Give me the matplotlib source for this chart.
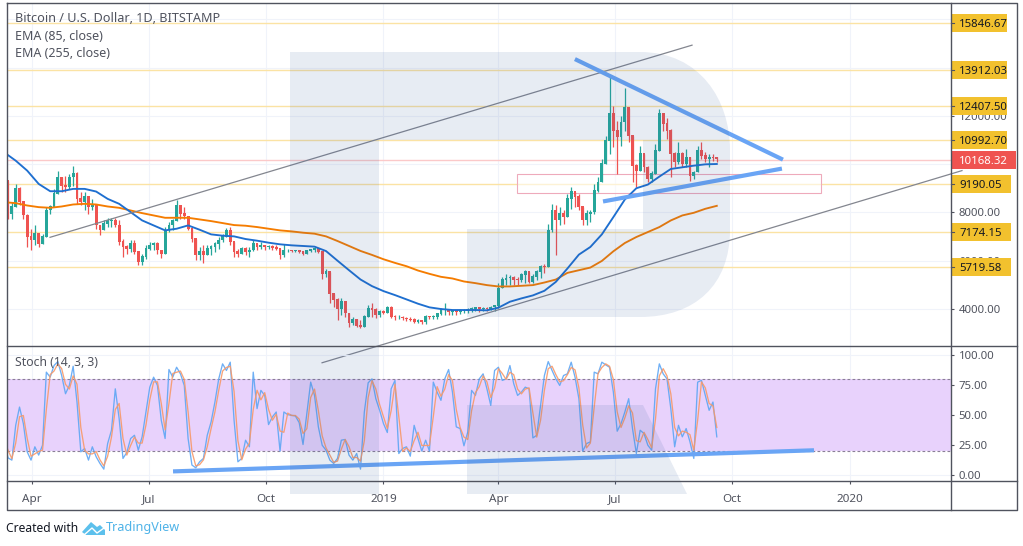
import matplotlib
matplotlib.use('Agg')
import matplotlib.pyplot as plt
import matplotlib.dates as mdates
from matplotlib.patches import Rectangle, PathPatch, Polygon
from matplotlib.path import Path
from matplotlib.transforms import blended_transform_factory
import numpy as np
import pandas as pd

plt.rcParams['font.family'] = ['Noto Sans', 'DejaVu Sans']

first_day = '2018-03-10'
highs = [9456,8700,8430,9180,9040,8425,7940,7325,7460,7120,7120,8220,8290,8975,9730,9455,9525,9590,9940,9660,
         8840,8840,8490,8560,7740,7460,7670,7780,7780,7780,7670,6910,6640,6840,6840,6295,6295,6640,6775,6775,
         6775,6430,7395,7600,7740,8520,8290,8245,7740,7255,6705,6570,6640,6640,6640,6775,6980,7120,7365,7395,
         6705,6500,6570,6570,6570,6840,6705,6775,6640,6637,6637,6637,6500,6705,6500,6460,6460,6460,6400,6460,
         6500,6540,6460,6320,5675,5540,4640,4440,4440,4300,3614,3655,3570,3545,3750,4160,4230,4025,3960,3960,
         4120,4120,3750,3750,3720,3680,3655,3615,3570,3505,3750,3710,3750,3850,4025,4230,3985,3958,3958,3985,
         3985,4025,4068,4068,4055,4068,4068,4120,4165,5060,5330,5470,5400,5360,5305,5500,5635,5470,5470,5610,
         5814,5880,7530,8356,8288,8218,8081,8769,9071,8837,8769,8081,8109,8081,9181,9484,10212,11175,13650,12412,
         11794,12000,13169,12344,11037,10006,10762,10281,9937,9731,10831,12275,12069,11931,11450,10487,10900,10487,10625,10144,
         9731,10762,10900,10487,10419,10419,10281]
lows = [8837,7740,7740,8220,8290,7740,6570,6460,6640,6570,6705,6980,7940,8220,8770,8840,8840,8975,9110,8355,
        8290,8080,7940,8080,7325,7050,7255,7395,7395,7395,6640,6160,6295,6360,6295,5810,5810,6090,6430,6430,
        6290,6130,6265,7190,7255,7695,7740,7740,7255,6775,6020,6020,5910,6225,6225,6360,6500,6775,6980,6640,
        6160,6160,6295,6225,6160,6400,6430,6500,6460,6500,6460,6430,6090,6160,6360,6360,6360,6320,6225,6320,
        6360,6360,6320,5260,5330,4230,4090,3540,3750,3680,3270,3340,3240,3200,3240,3655,3680,3615,3680,3790,
        3930,3615,3545,3570,3545,3505,3520,3408,3408,3380,3380,3600,3570,3600,3750,3750,3750,3750,3750,3790,
        3820,3850,3875,3930,3890,3930,3930,3958,3930,4025,4850,4990,4990,4990,4975,5125,5060,5060,5060,5195,
        5265,5500,5744,7187,6225,7462,7531,7875,8150,8219,8081,7462,7462,7600,7943,8837,9250,10006,10418,10693,
        9593,10762,11381,10900,9250,9044,9937,9662,9250,9250,9594,10556,11381,11037,9456,9869,10006,9869,9869,9319,
        9387,9662,10212,10075,9869,10144,10102]
closes = [9320,7940,8220,8975,8425,7875,6980,6840,7120,6705,6980,8080,8220,8770,9455,9110,9040,9455,9590,8560,
          8425,8630,8220,8290,7460,7255,7530,7640,7670,7460,6775,6570,6500,6705,6360,5950,6160,6500,6640,6705,
          6430,6265,7255,7460,7640,8290,7940,7835,7325,6910,6225,6360,6225,6500,6570,6705,6840,6980,7255,6775,
          6360,6295,6500,6360,6430,6705,6570,6640,6570,6570,6540,6500,6225,6430,6430,6400,6415,6375,6295,6400,
          6460,6500,6360,5470,5540,4640,4370,3990,4300,3820,3400,3545,3300,3250,3680,4030,3960,3750,3890,3820,
          4070,3680,3655,3655,3615,3570,3545,3475,3505,3460,3680,3655,3680,3790,3960,3960,3890,3930,3875,3930,
          3930,3985,4010,4040,3985,4025,3985,4068,4120,4850,5195,5265,5305,5220,5195,5400,5540,5125,5333,5540,
          5745,5744,7256,8081,7669,7943,7806,8562,8837,8631,8219,7669,7943,8000,8906,9250,10006,10969,12069,11381,
          11106,11725,12344,11175,9937,9731,10419,9869,9387,9594,10556,12069,11656,11381,10419,10075,10419,10006,10281,9525,
          9662,10556,10350,10212,10281,10254,10198]

ema85 = [10487,10144,9731,9181,8878,8878,8975,8975,8865,8562,8356,8012,7669,7462,7256,7325,7462,7284,7091,7036,
         7008,6898,6830,6747,6679,6637,6610,6582,6400,6000,5607,5222,4947,4741,4576,4398,4219,4068,3999,3958,
         3958,3958,3944,4054,4301,4439,4563,4754,5125,5675,6252,6569,7091,7806,8535,9002,9153,9483,9800,9869,
         9937,9992,10006]
ema255 = [8425,8384,8287,8219,8191,8246,8329,8356,8329,8246,8191,8081,7971,7875,7778,7778,7778,7710,7641,7559,
          7476,7449,7394,7325,7256,7215,7160,7119,7008,6816,6611,6405,6240,6061,5910,5772,5594,5456,5333,5264,
          5140,5071,4989,4934,4934,4961,4989,5097,5221,5496,5606,5716,5991,6390,6733,6981,7187,7393,7668,7875,
          7985,8150,8273]

stoch_k = [28,14.7,12.8,41.8,57,43.2,19.7,12.8,23.9,17,25.2,86.1,81.9,91.6,94.9,83.3,68.1,75,91,61.2,
           19.7,22.5,12.8,23.9,15.6,10,5.3,26.6,37.7,72.2,47.4,14.2,19.2,30.8,33.5,21.1,32.2,52.9,73.6,81.9,
           75,46,30.8,88.3,81.9,90.2,84.7,75,30.8,8.7,6.4,11.4,14.2,33.5,44.6,61.2,80.5,93,87.5,94.4,
           46,11.4,14.2,29.4,23.9,86.1,55.7,70.9,66.7,42.4,48.8,52.9,20.3,52.9,50.7,50.1,49.6,44,25.8,51.5,
           77.8,66.7,40.5,25.2,21.1,12.8,10,14.2,29.4,30,17,12.8,18.3,5.3,52.9,77.2,80.5,64,54.3,43.2,
           35.8,72.2,79.2,18.3,22.5,23.9,16.1,41.8,30.8,20.3,29.4,20.3,77.8,69.5,62.6,80.5,88.3,69.5,40.5,39.1,
           24.7,36.3,70.9,66.7,80.5,84.7,72.2,58.4,87.5,90.2,79.2,80.5,91.6,76.4,66.7,69.5,73.6,72.2,31.3,33.5,
           58.4,83.3,94.9,87.5,80.5,75,83.3,84.7,94.4,81.9,64,20.3,26.6,28,86.1,84.7,94.4,92.2,90.2,69.5,
           36.9,43.2,52.9,64,39.1,18.3,37.7,34.9,25.2,21.1,72.2,93,84.7,80.5,55.7,23.9,41.8,32.2,39.1,28,
           14.2,77.8,79.2,66.7,54.3,61.2,32.2]
stoch_d = [30,21,14,27,49,50,31,16,18,20,21,55,84,87,93,89,76,72,83,76,
           40,21,18,18,20,13,8,16,32,55,60,31,17,25,32,27,27,42,63,78,
           78,60,38,60,85,86,87,80,53,20,8,9,13,24,39,53,71,87,90,91,
           70,29,13,22,27,55,71,63,69,55,46,51,37,36,52,50,50,47,35,39,
           65,72,54,33,23,17,11,12,22,30,24,15,15,12,29,65,79,72,59,49,
           39,54,76,49,20,23,20,29,36,25,25,25,49,74,66,72,84,79,55,40,
           32,30,54,69,74,83,78,65,73,89,85,80,86,84,72,68,72,73,52,32,
           46,71,89,91,84,78,79,84,90,88,73,42,23,27,57,85,90,93,91,80,
           53,40,48,58,52,29,28,36,30,23,47,83,89,83,68,40,33,37,36,34,
           21,46,78,73,60,58,40]

level_prices = [15846.67, 13912.03, 12407.50, 10992.70, 9190.05, 7174.15, 5719.58]
last_price = 10168.32

# 10000, 14000 and 16000 sit behind the price tags
price_ticks = [4000, 6000, 8000, 10000, 12000, 14000, 16000]
price_labels = ['4000.00', '6000.00', '8000.00', '', '12000.00', '', '']
stoch_ticks = [0, 25, 50, 75, 100]
date_ticks = ['2018-04-01', '2018-07-01', '2018-10-01', '2019-01-01', '2019-04-01', '2019-07-01', '2019-10-01', '2020-01-01']
date_labels = ['Apr', 'Jul', 'Oct', '2019', 'Apr', 'Jul', 'Oct', '2020']

# drawn trend lines, days after 2018-04-01 and price
channel_days = [[13.9, 516.6], [226.9, 728]]
channel_prices = [[6969, 14928], [1773, 9732]]
triangle_days = [[424.9, 587.8], [446.9, 587]]
triangle_prices = [[14351, 10186], [8454, 9815]]
box_days = [379.5, 617.6]
box_prices = [8784, 9609]
stoch_line_days = [110.2, 612.1]
stoch_line_values = [3.4, 21]

TEXT = '#50535e'
UP = '#26a69a'
DOWN = '#ef5350'
TREND = '#6aa5f5'

W, H = 1023, 546
fig = plt.figure(figsize=(W / 100, H / 100), dpi=100)


def panel(x0, y0, x1, y1):
    return fig.add_axes([x0 / W, 1 - y1 / H, (x1 - x0) / W, (y1 - y0) / H])


ax = panel(6.5, 2.5, 950.5, 345.5)
st = panel(6.5, 345.5, 950.5, 481)
st.set_facecolor('none')

base = mdates.date2num(pd.Timestamp('2018-04-01'))
xlim = (base - 20.2, base + 719)
days = mdates.date2num(pd.date_range(first_day, periods=len(closes), freq='3D'))
ema_days = mdates.date2num(pd.date_range(first_day, periods=len(ema85), freq='9D'))
tick_days = mdates.date2num(pd.to_datetime(date_ticks))

closes = np.array(closes, dtype=float)
opens = np.r_[closes[0], closes[:-1]]
highs = np.array(highs, dtype=float)
lows = np.array(lows, dtype=float)
colors = [UP if c >= o else DOWN for o, c in zip(opens, closes)]

for a in (ax, st):
    a.set_xlim(*xlim)
    a.set_xticks(tick_days)
    a.grid(True, color='#f0f3fa', lw=0.8)
    a.set_axisbelow(True)
    for s in a.spines.values():
        s.set_visible(False)
    a.yaxis.tick_right()
    a.tick_params(axis='y', length=2.2, width=0.8, color=TEXT, labelcolor=TEXT, labelsize=8.2, pad=3.6)
    a.tick_params(axis='x', length=2.2, width=0.8, color=TEXT, labelcolor=TEXT, labelsize=8.4, pad=7)

# price panel
ax.set_ylim(2488, 16695)
ax.set_yticks(price_ticks)
ax.set_yticklabels(price_labels)
ax.tick_params(axis='x', labelbottom=False, length=0)
for lab in ax.get_yticklabels():
    lab.set_ha('left')

for p in level_prices:
    ax.axhline(p, color='#fbe3a4', lw=1.0, zorder=1.6)
ax.axhline(last_price, color='#fbc9c9', lw=1.0, zorder=1.6)

ax.add_patch(Rectangle((base + box_days[0], box_prices[0]), box_days[1] - box_days[0], box_prices[1] - box_prices[0],
                       facecolor=(1, 1, 1, 0.55), edgecolor='#eeaabb', lw=0.8, zorder=1.8))

ax.vlines(days, np.minimum(lows, np.minimum(opens, closes)), np.maximum(highs, np.maximum(opens, closes)),
          colors=colors, lw=0.9, zorder=2)
ax.bar(days, np.abs(closes - opens) + 30, bottom=np.minimum(opens, closes), width=2.2, color=colors, lw=0, zorder=2)

ax.plot(ema_days, ema255, color='#f57c00', lw=1.35, zorder=3)
ax.plot(ema_days, ema85, color='#1e6fd0', lw=1.35, zorder=3)

for d, p in zip(channel_days, channel_prices):
    ax.plot(base + np.array(d), p, color='#83868f', lw=0.9, zorder=3.5, clip_on=False)
for d, p in zip(triangle_days, triangle_prices):
    ax.plot(base + np.array(d), p, color=TREND, lw=3.0, zorder=4, solid_capstyle='butt')

# price tags on the right axis
tag = blended_transform_factory(ax.transAxes, ax.transData)
tag_h = 18 * 41.42
px = 1 / 944
for p in level_prices:
    width = 57 if p >= 10000 else 60
    ax.add_patch(Rectangle((1, p - tag_h / 2), width * px, tag_h, transform=tag, clip_on=False,
                           facecolor='#f2c12e', edgecolor='none', zorder=6))
    ax.plot([1, 1 + 3.5 * px], [p, p], transform=tag, clip_on=False, color=TEXT, lw=0.8, zorder=7)
    ax.text(1 + 8.5 * px, p, f'{p:.2f}', transform=tag, va='center_baseline', ha='left', fontsize=8.2, color='#131722', zorder=7)
ax.add_patch(Rectangle((1, last_price - tag_h / 2), 66 * px, tag_h, transform=tag, clip_on=False,
                       facecolor='#ef5350', edgecolor='none', zorder=6))
ax.text(1 + 8.5 * px, last_price, f'{last_price:.2f}', transform=tag, va='center_baseline', ha='left',
        fontsize=8.2, color='white', zorder=7)

# stochastic panel
st.set_ylim(-4.6, 108.3)
st.set_yticks(stoch_ticks)
st.set_yticklabels([f'{v:.2f}' for v in stoch_ticks])
for lab in st.get_yticklabels():
    lab.set_ha('left')
st.axhspan(20, 80, color='#e8d2fc', lw=0, zorder=1.6)
for lev in (20, 80):
    st.axhline(lev, color='#8b7f97', lw=0.8, ls=(0, (2.5, 2)), zorder=1.7)
st.plot(days, stoch_k, color='#5ea6f4', lw=0.95, alpha=0.9, zorder=3)
st.plot(days, stoch_d, color='#f7996a', lw=0.95, alpha=0.9, zorder=3)
st.plot(base + np.array(stoch_line_days), stoch_line_values, color=TREND, lw=3.0, zorder=4, solid_capstyle='butt')
st.set_xticklabels(date_labels)
for lab, txt in zip(st.get_xticklabels(), date_labels):
    if txt.startswith('20'):
        lab.set_fontweight('bold')

# overlay in pixels: frame, watermark, captions
ov = fig.add_axes([0, 0, 1, 1], zorder=10)
ov.set_xlim(0, W)
ov.set_ylim(H, 0)
ov.axis('off')

M, L, C, Z = Path.MOVETO, Path.LINETO, Path.CURVE4, Path.CLOSEPOLY
logo_v = [(290, 52), (640, 52), (700, 52), (730, 100), (730, 150), (730, 230), (730, 285), (695, 317), (640, 317),
          (467, 317), (467, 229), (643, 229), (643, 140), (379, 140), (379, 494), (290, 494), (290, 52)]
logo_c = [M, L, C, C, C, L, C, C, C, L, L, L, L, L, L, L, Z]
ov.add_patch(PathPatch(Path(logo_v, logo_c), facecolor='#2f589b', alpha=0.115, lw=0))
ov.add_patch(Polygon([(467, 405), (643, 405), (687, 494), (467, 494)], facecolor='#2f589b', alpha=0.115, lw=0))

ov.plot([6.5, 1016.5, 1016.5, 6.5, 6.5], [2.5, 2.5, 509.5, 509.5, 2.5], color=TEXT, lw=1.0)
ov.plot([950.5, 950.5], [2.5, 509.5], color=TEXT, lw=1.0)
ov.plot([6.5, 1016.5], [345.5, 345.5], color=TEXT, lw=1.0)
ov.plot([6.5, 1016.5], [481, 481], color=TEXT, lw=1.0)

ov.text(15, 19, 'Bitcoin / U.S. Dollar, 1D, BITSTAMP', fontsize=9.1, fontweight='bold', color=TEXT, va='center')
ov.text(15, 37, 'EMA (85, close)', fontsize=9.0, color=TEXT, va='center')
ov.text(15, 53.5, 'EMA (255, close)', fontsize=9.0, color=TEXT, va='center')
ov.text(15, 362, 'Stoch (14, 3, 3)', fontsize=8.8, color=TEXT, va='center')

ov.text(6, 528, 'Created with', fontsize=8.7, color='#131722', va='center')
ov.add_patch(Polygon([(82, 532), (91, 522), (97, 527), (100, 525), (105, 530), (105, 535), (86, 535)], facecolor='#5cc0ec', lw=0))
ov.plot([84, 92, 97, 104], [535, 528, 533, 528], color='white', lw=1.0)
ov.text(106, 528, 'TradingView', fontsize=9.1, color='#4fb3e8', va='center')

fig.savefig('out.png', dpi=100)
